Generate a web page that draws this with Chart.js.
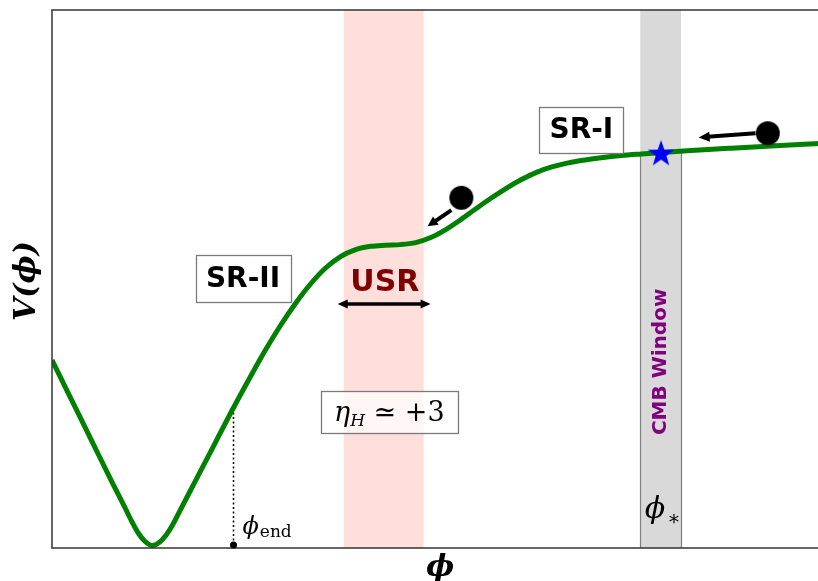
<!DOCTYPE html>
<html>
<head>
<meta charset="utf-8">
<script src="https://cdn.jsdelivr.net/npm/chart.js@4.4.1/dist/chart.umd.min.js"></script>
<style>
  html, body { margin: 0; padding: 0; background: #ffffff; overflow: hidden; }
  #wrap { width: 821px; height: 581px; }
</style>
</head>
<body>
<div id="wrap"><canvas id="c" width="821" height="581"></canvas></div>
<script>
// Inflaton potential V(phi) sampled along the field
const phi = [0.000, 0.261, 0.522, 0.783, 0.939, 1.044, 1.122, 1.213, 1.305, 1.396,
             1.487, 1.566, 1.670, 1.866, 2.127, 2.361, 2.583, 2.779, 2.975, 3.170,
             3.366, 3.562, 3.757, 3.953, 4.149, 4.344, 4.540, 4.736, 4.932, 5.127,
             5.323, 5.519, 5.714, 5.910, 6.106, 6.301, 6.497, 6.693, 6.888, 7.149,
             7.410, 7.671, 7.932, 8.323, 8.845, 9.367, 10.000];
const potential = [0.3494, 0.2736, 0.1978, 0.1219, 0.0781, 0.0478, 0.0279, 0.0121, 0.0046, 0.0102,
                   0.0242, 0.0418, 0.0704, 0.1242, 0.1959, 0.2602, 0.3184, 0.3680, 0.4136, 0.4545,
                   0.4907, 0.5204, 0.5418, 0.5548, 0.5608, 0.5628, 0.5639, 0.5677, 0.5770, 0.5918,
                   0.6104, 0.6305, 0.6500, 0.6682, 0.6844, 0.6978, 0.7078, 0.7149, 0.7201, 0.7253,
                   0.7294, 0.7323, 0.7349, 0.7387, 0.7431, 0.7472, 0.7519];

// Field ranges of the ultra-slow-roll phase and the CMB window
const usrRange = [3.80, 4.84];
const cmbRange = [7.66, 8.19];
const phiStar = 7.93;
const vStar = 0.735;
const phiEnd = 2.361;
const vEnd = 0.2602;

// Rolling balls on the potential
const ballPhi = [9.32, 5.33];
const ballV = [0.771, 0.651];

// Curve value at a field point (linear between samples)
function vAt(p) {
  for (let i = 0; i < phi.length - 1; i++) {
    if (p >= phi[i] && p <= phi[i + 1]) {
      const t = (p - phi[i]) / (phi[i + 1] - phi[i]);
      return potential[i] + t * (potential[i + 1] - potential[i]);
    }
  }
  return potential[potential.length - 1];
}

function makeStar(r) {
  const c = document.createElement('canvas');
  const s = Math.ceil(r * 2 + 2);
  c.width = s; c.height = s;
  const g = c.getContext('2d');
  g.fillStyle = '#0000ff';
  g.beginPath();
  for (let i = 0; i < 10; i++) {
    const rr = (i % 2) ? r * 0.4 : r;
    const a = -Math.PI / 2 + i * Math.PI / 5;
    g.lineTo(s / 2 + rr * Math.cos(a), s / 2 + 1.5 + rr * Math.sin(a));
  }
  g.closePath();
  g.fill();
  return c;
}

function makeBall(r) {
  const c = document.createElement('canvas');
  const s = Math.ceil(r * 2 + 2);
  c.width = s; c.height = s;
  const g = c.getContext('2d');
  g.fillStyle = '#000000';
  g.beginPath();
  g.arc(s / 2, s / 2, r, 0, Math.PI * 2);
  g.fill();
  return c;
}

function arrowHead(ctx, x1, y1, x2, y2, hl, hw) {
  const a = Math.atan2(y2 - y1, x2 - x1);
  const bx = x2 - hl * Math.cos(a), by = y2 - hl * Math.sin(a);
  ctx.beginPath();
  ctx.moveTo(x2, y2);
  ctx.lineTo(bx + hw * Math.sin(a), by - hw * Math.cos(a));
  ctx.lineTo(bx - hw * Math.sin(a), by + hw * Math.cos(a));
  ctx.closePath();
  ctx.fill();
}

function arrow(ctx, x1, y1, x2, y2, lw, hl, hw, both) {
  const a = Math.atan2(y2 - y1, x2 - x1);
  ctx.lineWidth = lw;
  ctx.lineCap = 'butt';
  ctx.beginPath();
  const sx = both ? x1 + hl * 0.8 * Math.cos(a) : x1;
  const sy = both ? y1 + hl * 0.8 * Math.sin(a) : y1;
  ctx.moveTo(sx, sy);
  ctx.lineTo(x2 - hl * 0.8 * Math.cos(a), y2 - hl * 0.8 * Math.sin(a));
  ctx.stroke();
  arrowHead(ctx, x1, y1, x2, y2, hl, hw);
  if (both) arrowHead(ctx, x2, y2, x1, y1, hl, hw);
}

function boxedText(ctx, text, cx, cy, font, w, h) {
  ctx.font = font;
  ctx.fillStyle = 'rgba(255,255,255,0.85)';
  ctx.fillRect(cx - w / 2, cy - h / 2, w, h);
  ctx.strokeStyle = '#7a7a7a';
  ctx.lineWidth = 1.3;
  ctx.strokeRect(Math.round(cx - w / 2) + 0.5, Math.round(cy - h / 2) + 0.5, Math.round(w), Math.round(h));
  ctx.fillStyle = '#000000';
  ctx.textAlign = 'center';
  ctx.textBaseline = 'middle';
  ctx.fillText(text, cx, cy + 1);
}

const decor = {
  id: 'decor',
  beforeDatasetsDraw(chart) {
    const { ctx, chartArea: ca, scales: { x, y } } = chart;
    ctx.save();
    // USR band
    ctx.fillStyle = 'rgba(250,128,114,0.25)';
    ctx.fillRect(x.getPixelForValue(usrRange[0]), ca.top, x.getPixelForValue(usrRange[1]) - x.getPixelForValue(usrRange[0]), ca.bottom - ca.top);
    // CMB window band
    ctx.fillStyle = 'rgba(128,128,128,0.3)';
    ctx.fillRect(x.getPixelForValue(cmbRange[0]), ca.top, x.getPixelForValue(cmbRange[1]) - x.getPixelForValue(cmbRange[0]), ca.bottom - ca.top);
    ctx.strokeStyle = '#7f7f7f';
    ctx.lineWidth = 1.2;
    cmbRange.forEach(p => {
      const px = Math.round(x.getPixelForValue(p)) + 0.5;
      ctx.beginPath();
      ctx.moveTo(px, ca.bottom);
      ctx.lineTo(px, y.getPixelForValue(vAt(p)));
      ctx.stroke();
    });
    // End of inflation marker
    const ex = Math.round(x.getPixelForValue(phiEnd)) + 0.5;
    ctx.strokeStyle = '#000000';
    ctx.lineWidth = 1.5;
    ctx.setLineDash([2, 2.5]);
    ctx.beginPath();
    ctx.moveTo(ex, y.getPixelForValue(vEnd));
    ctx.lineTo(ex, ca.bottom - 3);
    ctx.stroke();
    ctx.setLineDash([]);
    ctx.restore();
  },
  afterDatasetsDraw(chart) {
    const { ctx, chartArea: ca, scales: { x, y } } = chart;
    ctx.save();
    // frame
    ctx.strokeStyle = '#333333';
    ctx.lineWidth = 1.5;
    ctx.beginPath();
    ctx.moveTo(ca.right + 3, ca.top);
    ctx.lineTo(ca.left, ca.top);
    ctx.lineTo(ca.left, ca.bottom);
    ctx.lineTo(ca.right + 3, ca.bottom);
    ctx.stroke();

    // phi_end dot
    const ex = Math.round(x.getPixelForValue(phiEnd)) + 0.5;
    ctx.fillStyle = '#000000';
    ctx.beginPath();
    ctx.arc(ex, ca.bottom - 3, 3.5, 0, Math.PI * 2);
    ctx.fill();

    // roll direction arrows
    ctx.strokeStyle = '#000000';
    ctx.fillStyle = '#000000';
    arrow(ctx, x.getPixelForValue(9.16), y.getPixelForValue(0.771), x.getPixelForValue(8.42), y.getPixelForValue(0.763), 4, 11, 5, false);
    arrow(ctx, x.getPixelForValue(5.20), y.getPixelForValue(0.628), x.getPixelForValue(4.89), y.getPixelForValue(0.598), 4, 10, 5, false);
    // USR extent
    arrow(ctx, x.getPixelForValue(3.72), y.getPixelForValue(0.4535), x.getPixelForValue(4.93), y.getPixelForValue(0.4535), 3.5, 10, 4.5, true);

    // region labels
    boxedText(ctx, 'SR-I', x.getPixelForValue(6.893), y.getPixelForValue(0.777), 'bold 28px "DejaVu Sans"', 84, 46);
    boxedText(ctx, 'SR-II', x.getPixelForValue(2.487), y.getPixelForValue(0.501), 'bold 28px "DejaVu Sans"', 95, 47);

    ctx.fillStyle = '#800000';
    ctx.font = 'bold 30px "DejaVu Sans"';
    ctx.textAlign = 'center';
    ctx.textBaseline = 'alphabetic';
    ctx.fillText('USR', x.getPixelForValue(4.334), y.getPixelForValue(0.477));

    // eta_H box
    const bx = x.getPixelForValue(4.392), by = y.getPixelForValue(0.253);
    ctx.fillStyle = 'rgba(255,255,255,0.75)';
    ctx.fillRect(bx - 68.5, by - 21, 137, 42);
    ctx.strokeStyle = '#7a7a7a';
    ctx.lineWidth = 1.3;
    ctx.strokeRect(Math.round(bx - 68.5) + 0.5, Math.round(by - 21) + 0.5, 137, 42);
    ctx.fillStyle = '#000000';
    ctx.textAlign = 'left';
    ctx.textBaseline = 'alphabetic';
    const parts = [
      ['η', 'italic 27px "DejaVu Serif"', 0],
      ['H', 'italic 17px "DejaVu Serif"', 5],
      [' ≃ +3', '27px "DejaVu Serif"', 0]
    ];
    let tw = 0;
    parts.forEach(p => { ctx.font = p[1]; tw += ctx.measureText(p[0]).width; });
    let tx = bx - tw / 2;
    const base = by + 9;
    parts.forEach(p => { ctx.font = p[1]; ctx.fillText(p[0], tx, base + p[2]); tx += ctx.measureText(p[0]).width; });

    // CMB window label
    const sx = x.getPixelForValue(phiStar);
    ctx.save();
    ctx.translate(sx, y.getPixelForValue(0.346));
    ctx.rotate(-Math.PI / 2);
    ctx.fillStyle = '#800080';
    ctx.font = 'bold 20px "DejaVu Sans"';
    ctx.textAlign = 'center';
    ctx.textBaseline = 'middle';
    ctx.fillText('CMB Window', 0, 0);
    ctx.restore();

    // phi_* label
    ctx.fillStyle = '#000000';
    ctx.textAlign = 'center';
    ctx.textBaseline = 'alphabetic';
    ctx.font = 'italic 30px "DejaVu Serif"';
    ctx.fillText('ϕ', sx - 6, ca.bottom - 30);
    ctx.font = '20px "DejaVu Serif"';
    ctx.fillText('∗', sx + 13, ca.bottom - 23);

    // phi_end label
    ctx.textAlign = 'left';
    ctx.font = 'italic 24px "DejaVu Serif"';
    ctx.fillText('ϕ', ex + 9, ca.bottom - 14);
    const pw = ctx.measureText('ϕ').width;
    ctx.font = '17px "DejaVu Serif"';
    ctx.fillText('end', ex + 9 + pw + 1, ca.bottom - 11);

    // axis titles
    ctx.textAlign = 'center';
    ctx.textBaseline = 'middle';
    ctx.font = 'bold italic 30px "DejaVu Serif"';
    ctx.fillText('ϕ', 440, ca.bottom + 20);
    ctx.save();
    ctx.translate(27, 281);
    ctx.rotate(-Math.PI / 2);
    ctx.font = 'bold italic 30px "DejaVu Serif"';
    ctx.fillText('V(ϕ)', 0, 0);
    ctx.restore();

    ctx.restore();
  }
};

new Chart(document.getElementById('c'), {
  type: 'line',
  data: {
    datasets: [
      {
        label: 'V',
        data: phi.map((p, i) => ({ x: p, y: potential[i] })),
        borderColor: '#008000',
        borderWidth: 5,
        borderJoinStyle: 'round',
        pointRadius: 0,
        pointHoverRadius: 0,
        cubicInterpolationMode: 'monotone',
        fill: false,
        order: 3
      },
      {
        type: 'scatter',
        label: 'balls',
        data: ballPhi.map((p, i) => ({ x: p, y: ballV[i] })),
        pointStyle: makeBall(12),
        pointRadius: 1,
        pointHoverRadius: 1,
        pointBorderWidth: 0,
        order: 1
      },
      {
        type: 'scatter',
        label: 'star',
        data: [{ x: phiStar, y: vStar }],
        pointStyle: makeStar(14),
        pointRadius: 1,
        pointHoverRadius: 1,
        pointBorderWidth: 0,
        order: 0
      }
    ]
  },
  options: {
    responsive: false,
    animation: false,
    devicePixelRatio: 1,
    events: [],
    layout: { padding: { left: 52, top: 10, right: 0, bottom: 33 } },
    plugins: { legend: { display: false }, tooltip: { enabled: false } },
    scales: {
      x: { type: 'linear', min: 0, max: 10, display: false },
      y: { type: 'linear', min: 0, max: 1, display: false }
    }
  },
  plugins: [decor]
});
</script>
</body>
</html>
